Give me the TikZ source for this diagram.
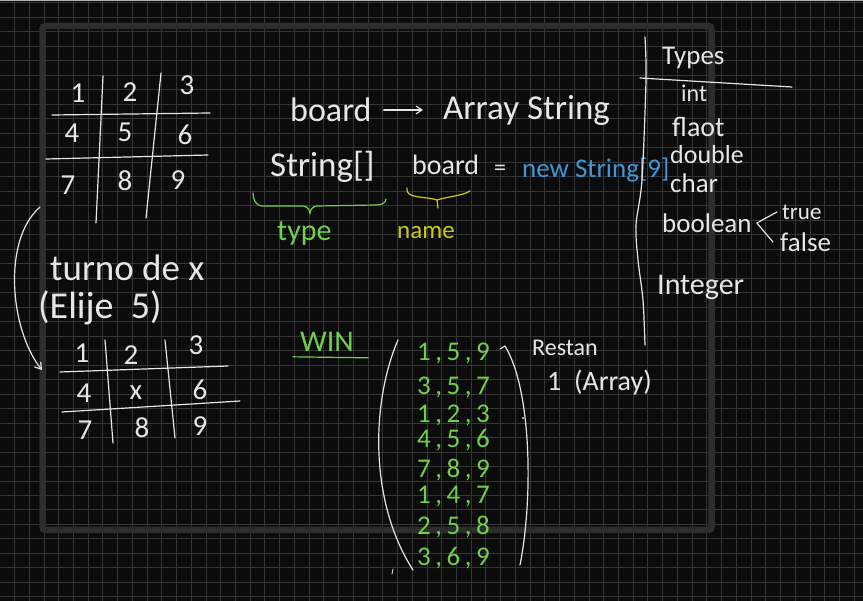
\documentclass[tikz,border=0pt]{standalone}
\usepackage{xcolor}
\usepackage{fontspec}
\setmainfont{Carlito}
\usepackage{tikz}
\usetikzlibrary{arrows.meta,positioning}

\definecolor{boardBlack}{HTML}{0B0B0B}
\definecolor{gridGray}{HTML}{353535}
\definecolor{frameGray}{HTML}{2D2D2D}
\definecolor{chalk}{HTML}{E6E6E6}
\definecolor{penGreen}{HTML}{6FD14A}
\definecolor{penYellow}{HTML}{CBCB12}
\definecolor{penBlue}{HTML}{3F97D9}
\newcommand\penfont[1]{\fontsize{#1}{#1}\selectfont}

\begin{document}
\begin{tikzpicture}[x=1pt, y=-1pt, every node/.style={inner sep=0pt, anchor=west, text=chalk}]

    % Styles for the whiteboard strokes
    \tikzset{
        gridline/.style={draw=gridGray, line width=0.6pt},
        boardframe/.style={draw=frameGray, line width=6.5pt, rounded corners=3pt},
        pen/.style={draw=chalk, line width=1.2pt, line cap=round, line join=round},
        arrow/.style={pen, -{Straight Barb[length=6pt,width=8pt]}},
        digit/.style={anchor=center, font=\penfont{29}},
        winrow/.style={text=penGreen, font=\penfont{27}}
    }

    % Background, grid and frame
    \fill[boardBlack] (0,0) rectangle (863,601);
    \useasboundingbox (0,0) rectangle (863,601);
    \foreach \i in {0,...,57} \draw[gridline] ({14.38+14.73*\i},0) -- ++(0,601);
    \foreach \j in {0,...,41} \draw[gridline] (0,{2.8+14.485*\j}) -- ++(863,0);
    \fill[gray!60] (0,0) rectangle (863,1.5);
    \draw[boardframe] (42.5,26) rectangle (711.5,530);

    % First board
    \draw[pen] (103,76) -- (96,223);
    \draw[pen] (161,73) -- (146,218);
    \draw[pen] (52,115) -- (210,113);
    \draw[pen] (46,159) -- (208,155);
    \foreach \d/\x/\y in {1/78/93, 2/130/92, 3/187/85, 4/72/133, 5/125/132, 6/185/135, 7/68/185, 8/125/181, 9/178/180}
        \node[digit] (ga\d) at (\x,\y) {\d};

    \node[font=\penfont{37}] (turn) at (50,268) {turno de x};
    \node[font=\penfont{38}] (pick) at (38,308) {(Elije\ \ 5)};

    % Second board, after the move
    \draw[pen] (105,340) -- (113,443);
    \draw[pen] (165,340) -- (175,438);
    \draw[pen] (60,372) -- (228,366);
    \draw[pen] (62,412) -- (240,401);
    \foreach \d/\x/\y/\t in {1/82/353/1, 2/131/355/2, 3/196/345/3, 4/84/393/4, 5/136/393/x, 6/200/390/6, 7/85/430/7, 8/142/428/8, 9/200/426/9}
        \node[digit] (gb\d) at (\x,\y) {\t};

    \coordinate (turnFrom) at (40,207);
    \coordinate (turnTo) at (42,370);
    \draw[arrow] (turnFrom) .. controls (2,240) and (10,330) .. (turnTo);

    % Declaration of the board
    \node[font=\penfont{34}] (board) at (290,110) {board};
    \node[font=\penfont{35}] (arrayStr) at (443,110) {Array String};
    \draw[arrow, shorten <=12pt, shorten >=20pt] (board.east) -- (arrayStr.west |- board.east);

    \node[font=\penfont{35}] (decl) at (270,167) {String[]};
    \node[font=\penfont{28}] (boardVar) at (412,165) {board};
    \node[font=\penfont{24}] (eq) at (494,170) {=};
    \node[font=\penfont{27}, text=penBlue] (newStr) at (522,170) {new String[9]};

    \draw[pen, draw=penGreen] (253,193) to[out=-90,in=180] (262,206) -- (303,206)
        to[out=0,in=90] (310,214) to[out=90,in=180] (317,206) -- (376,205) to[out=0,in=-90] (386,199);
    \node[font=\penfont{30}, text=penGreen] (typeLbl) at (277,233) {type};

    \draw[pen, draw=penYellow] (407,188) .. controls (405,199) and (425,196) .. (437,200) -- (438,208);
    \draw[pen, draw=penYellow] (437,200) .. controls (450,196) and (462,196) .. (470,191);
    \node[font=\penfont{25}, text=penYellow] (nameLbl) at (397,233) {name};

    % Types column
    \draw[pen] plot[smooth] coordinates {(645,37) (646,80) (642,180) (636,225) (638,260) (643,300) (645,345)};
    \draw[pen] (640,78) -- (792,87);
    \node[font=\penfont{27}] (types) at (662,58) {Types};
    \node[font=\penfont{24}] (intT) at (681,93) {int};
    \node[font=\penfont{28}] (floatT) at (672,127) {flaot};
    \node[font=\penfont{26}] (doubleT) at (670,155) {double};
    \node[font=\penfont{27}] (charT) at (670,183) {char};
    \node[font=\penfont{27}] (boolT) at (662,223) {boolean};
    \node[font=\penfont{23}] (trueT) at (782,212) {true};
    \node[font=\penfont{27}] (falseT) at (780,242) {false};
    \draw[pen] ([xshift=-5pt]trueT.west) -- ([xshift=5pt]boolT.east) -- ([xshift=-7pt]falseT.west);
    \node[font=\penfont{30}] (integerT) at (657,287) {Integer};

    % Winning lines
    \node[font=\penfont{30}, text=penGreen] (win) at (300,342) {WIN};
    \draw[pen, draw=penGreen] ([shift={(-7,5)}]win.south west) -- ([shift={(14,6)}]win.south east);
    \foreach \a/\b/\c/\y/\n in {1/5/9/353/w1, 3/5/7/387/w2, 1/2/3/415/w3, 4/5/6/440/w4, 7/8/9/470/w5, 1/4/7/497/w6, 2/5/8/527/w7, 3/6/9/558/w8}
        \node[winrow] (\n) at (417,\y) {\a\,,\,\b\,,\,\c};
    \draw[pen] (398,340) .. controls (372,400) and (368,500) .. (413,570);
    \draw[pen] (500,349) -- (505,346) .. controls (532,390) and (533,500) .. (520,565);
    \fill[chalk] (523,418) circle (1.2);
    \draw[pen, line width=0.8pt] (393,569) -- (392,574);
    \node[font=\penfont{24}] (restan) at (532,348) {Restan};
    \node[font=\penfont{28}] (arrayNote) at (547,383) {1\ \ (Array)};

\end{tikzpicture}
\end{document}
